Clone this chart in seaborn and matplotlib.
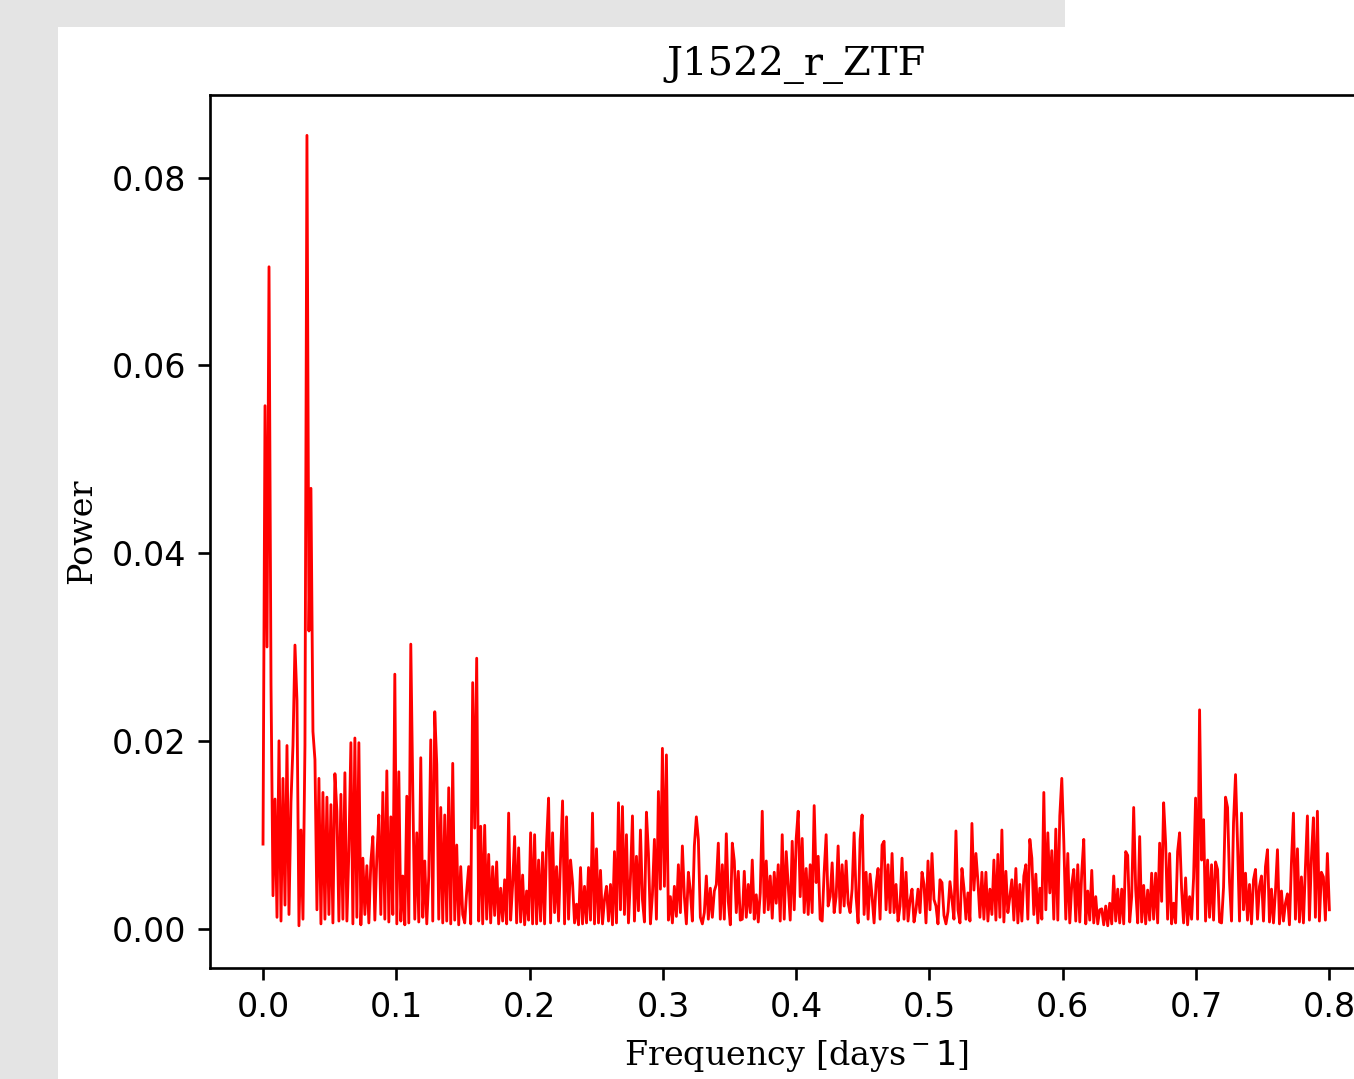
import numpy as np
import matplotlib
matplotlib.use("Agg")
import matplotlib.pyplot as plt
from matplotlib.patches import Rectangle
import seaborn as sns

# Periodogram power, in units of 1e-3,
# one value every ~0.0015 days^-1 from 0.0 to 0.8
band_a = [
    9.0, 55.7, 30.0, 70.5, 26.0, 3.5, 13.8, 1.2, 20.0, 0.8, 16.0, 2.5, 19.5, 1.5, 13.5, 19.5, 30.2, 24.3, 0.3, 10.5,
    1.0, 19.5, 84.5, 31.7, 46.9, 21.0, 18.0, 2.0, 16.0, 0.5, 14.5, 1.0, 14.0, 1.5, 13.2, 0.6, 16.5, 12.5, 0.8, 14.3,
    1.0, 16.6, 0.8, 8.3, 19.8, 0.5, 20.3, 1.2, 19.8, 0.4, 7.5, 1.5, 6.7, 0.6, 7.1, 9.8, 0.9, 7.7, 12.1, 1.5,
    14.5, 1.0, 16.8, 0.7, 11.9, 1.5, 27.1, 0.5, 16.7, 0.8, 5.6, 0.4, 14.1, 0.6, 30.3, 14.6, 1.0, 10.2, 0.7, 18.2,
    1.2, 7.2, 0.5, 5.6, 20.1, 0.8, 23.1, 17.5, 1.0, 12.9, 0.6, 12.1, 0.8, 15.0, 0.5, 17.6, 0.9, 8.9, 0.4, 6.6,
    1.5, 0.6, 4.0, 6.6, 0.5, 26.2, 10.7, 28.8, 0.8, 10.9, 0.5, 11.0, 1.0, 7.9, 0.6, 6.6, 1.4, 7.1, 0.5, 4.3,
    0.8, 5.2, 0.5, 12.3, 0.9, 4.7, 9.8, 0.6, 8.6, 0.7, 5.7, 0.4, 4.0, 0.9, 10.2, 0.5, 10.0, 0.5, 7.3, 0.8,
]
band_b = [
    8.1, 0.5, 9.1, 13.9, 0.6, 10.2, 1.7, 6.6, 0.8, 7.5, 13.6, 0.5, 11.9, 1.0, 7.3, 4.9, 0.6, 2.6, 0.4, 6.5,
    0.5, 4.5, 0.6, 6.5, 0.9, 12.3, 0.5, 8.5, 0.6, 6.2, 0.5, 3.1, 4.5, 0.8, 4.7, 0.4, 8.2, 0.6, 13.4, 2.0,
    13.0, 1.5, 10.0, 0.6, 5.4, 12.0, 0.8, 7.7, 1.9, 10.5, 3.1, 0.7, 12.4, 8.0, 0.5, 3.6, 9.5, 1.0, 14.6, 4.2,
    19.2, 4.5, 18.5, 0.9, 3.4, 0.6, 4.5, 1.3, 6.8, 1.7, 8.8, 3.4, 0.5, 6.0, 4.0, 0.8, 8.8, 11.9, 9.5, 1.2,
    0.5, 1.7, 5.6, 1.0, 4.3, 1.2, 4.0, 4.7, 9.1, 1.0, 6.8, 1.0, 10.1, 2.9, 0.4, 9.1, 7.2, 1.7, 6.1, 0.9,
    1.0, 6.1, 1.2, 4.7, 1.7, 7.3, 1.0, 3.6, 0.7, 3.8, 12.5, 1.7, 7.2, 2.0, 5.6, 1.1, 6.0, 2.7, 6.8, 0.8,
    10.0, 1.0, 8.2, 4.5, 0.9, 9.3, 2.0, 9.6, 12.5, 3.4, 9.6, 1.7, 6.4, 1.5, 6.8, 1.7, 13.1, 4.9, 7.7, 1.0,
]
band_c = [
    0.8, 6.0, 10.0, 2.4, 3.4, 7.0, 1.7, 3.4, 8.8, 1.7, 6.8, 2.4, 7.2, 2.7, 1.7, 4.2, 10.2, 3.4, 0.6, 9.5,
    12.1, 1.5, 6.0, 1.0, 5.8, 3.4, 0.6, 4.7, 6.4, 1.0, 8.9, 9.3, 2.0, 6.8, 1.7, 8.0, 1.7, 4.7, 0.8, 2.4,
    7.5, 1.0, 6.0, 0.8, 3.0, 4.2, 0.7, 2.0, 4.2, 1.7, 6.0, 4.7, 0.6, 7.2, 2.0, 8.0, 3.1, 2.4, 0.5, 5.2,
    4.9, 1.4, 0.5, 1.8, 5.0, 3.1, 1.0, 10.4, 2.0, 0.6, 6.4, 4.3, 1.0, 3.8, 0.8, 11.2, 4.1, 8.0, 5.0, 1.2,
    6.0, 1.0, 6.0, 0.8, 4.2, 1.5, 7.3, 0.9, 7.9, 1.2, 10.5, 0.7, 6.1, 1.7, 3.4, 5.2, 0.9, 6.4, 0.6, 4.7,
    0.8, 5.6, 6.8, 1.0, 9.5, 7.5, 1.5, 5.8, 0.6, 4.3, 1.0, 14.5, 2.0, 10.2, 3.8, 8.3, 1.0, 10.6, 0.9, 12.0,
    16.0, 9.3, 1.0, 8.0, 0.6, 4.7, 6.3, 0.8, 6.8, 0.7, 6.0, 9.5, 0.5, 4.0, 0.9, 6.2, 0.6, 3.4, 0.5, 2.0,
]
band_d = [
    2.1, 0.4, 2.4, 0.3, 2.7, 0.5, 5.6, 0.8, 4.2, 0.6, 4.2, 0.5, 8.2, 7.8, 0.7, 3.4, 12.9, 4.2, 0.6, 9.8,
    0.7, 4.6, 0.5, 4.1, 0.9, 5.9, 1.0, 5.9, 0.6, 9.1, 2.9, 13.4, 9.1, 1.0, 8.0, 0.5, 2.7, 0.6, 8.2, 10.2,
    4.2, 0.6, 5.4, 0.4, 3.4, 1.0, 5.4, 13.9, 1.0, 23.3, 7.3, 11.6, 0.8, 7.3, 1.2, 6.8, 0.9, 7.1, 6.3, 0.7,
    0.6, 4.4, 14.0, 12.9, 5.0, 0.8, 11.3, 16.4, 9.1, 0.8, 12.3, 2.0, 5.9, 0.9, 4.7, 0.5, 5.2, 6.3, 1.0, 4.5,
    5.6, 0.8, 6.6, 8.4, 0.7, 4.2, 0.6, 4.0, 8.4, 0.5, 4.0, 0.8, 2.7, 3.7, 0.4, 7.0, 12.3, 1.0, 8.5, 0.7,
    5.5, 0.6, 6.5, 12.0, 0.9, 7.5, 11.8, 1.2, 12.5, 0.8, 6.0, 5.5, 0.9, 8.0, 2.0,
]

title = "J1522_r_ZTF"
x_label = "Frequency [days$^-1$]"
y_label = "Power"

power = np.array(band_a + band_b + band_c + band_d) / 1000.0
freq = np.linspace(0.0, 0.8, len(power))

DPI = 240
W, H = 1354, 1079
fig = plt.figure(figsize=(W / DPI, H / DPI), dpi=DPI, facecolor="#e4e4e4")

# white canvas of the original figure sitting on the grey backdrop
fig.add_artist(Rectangle((58 / W, 0), 1, 1 - 27 / H, transform=fig.transFigure,
                         facecolor="white", edgecolor="none", zorder=0))
fig.add_artist(Rectangle((1065 / W, 0), 1, 1, transform=fig.transFigure,
                         facecolor="white", edgecolor="none", zorder=0))

ax = fig.add_axes([209.7 / W, 111 / H, 1173 / W, 873 / H])
ax.set_facecolor("white")

sns.lineplot(x=freq, y=power, color="red", linewidth=0.85, ax=ax, estimator=None)

ax.set_xlim(-0.04, 0.84)
ax.set_ylim(-0.0042, 0.0888)
ax.set_xticks(np.arange(0, 0.81, 0.1))
ax.set_yticks(np.arange(0, 0.081, 0.02))

ax.set_title(title, family="DejaVu Serif", fontsize=12)
ax.set_xlabel(x_label, family="DejaVu Serif", fontsize=10)
ax.set_ylabel(y_label, family="DejaVu Serif", fontsize=10)

fig.savefig("out.png", dpi=DPI, facecolor=fig.get_facecolor())
